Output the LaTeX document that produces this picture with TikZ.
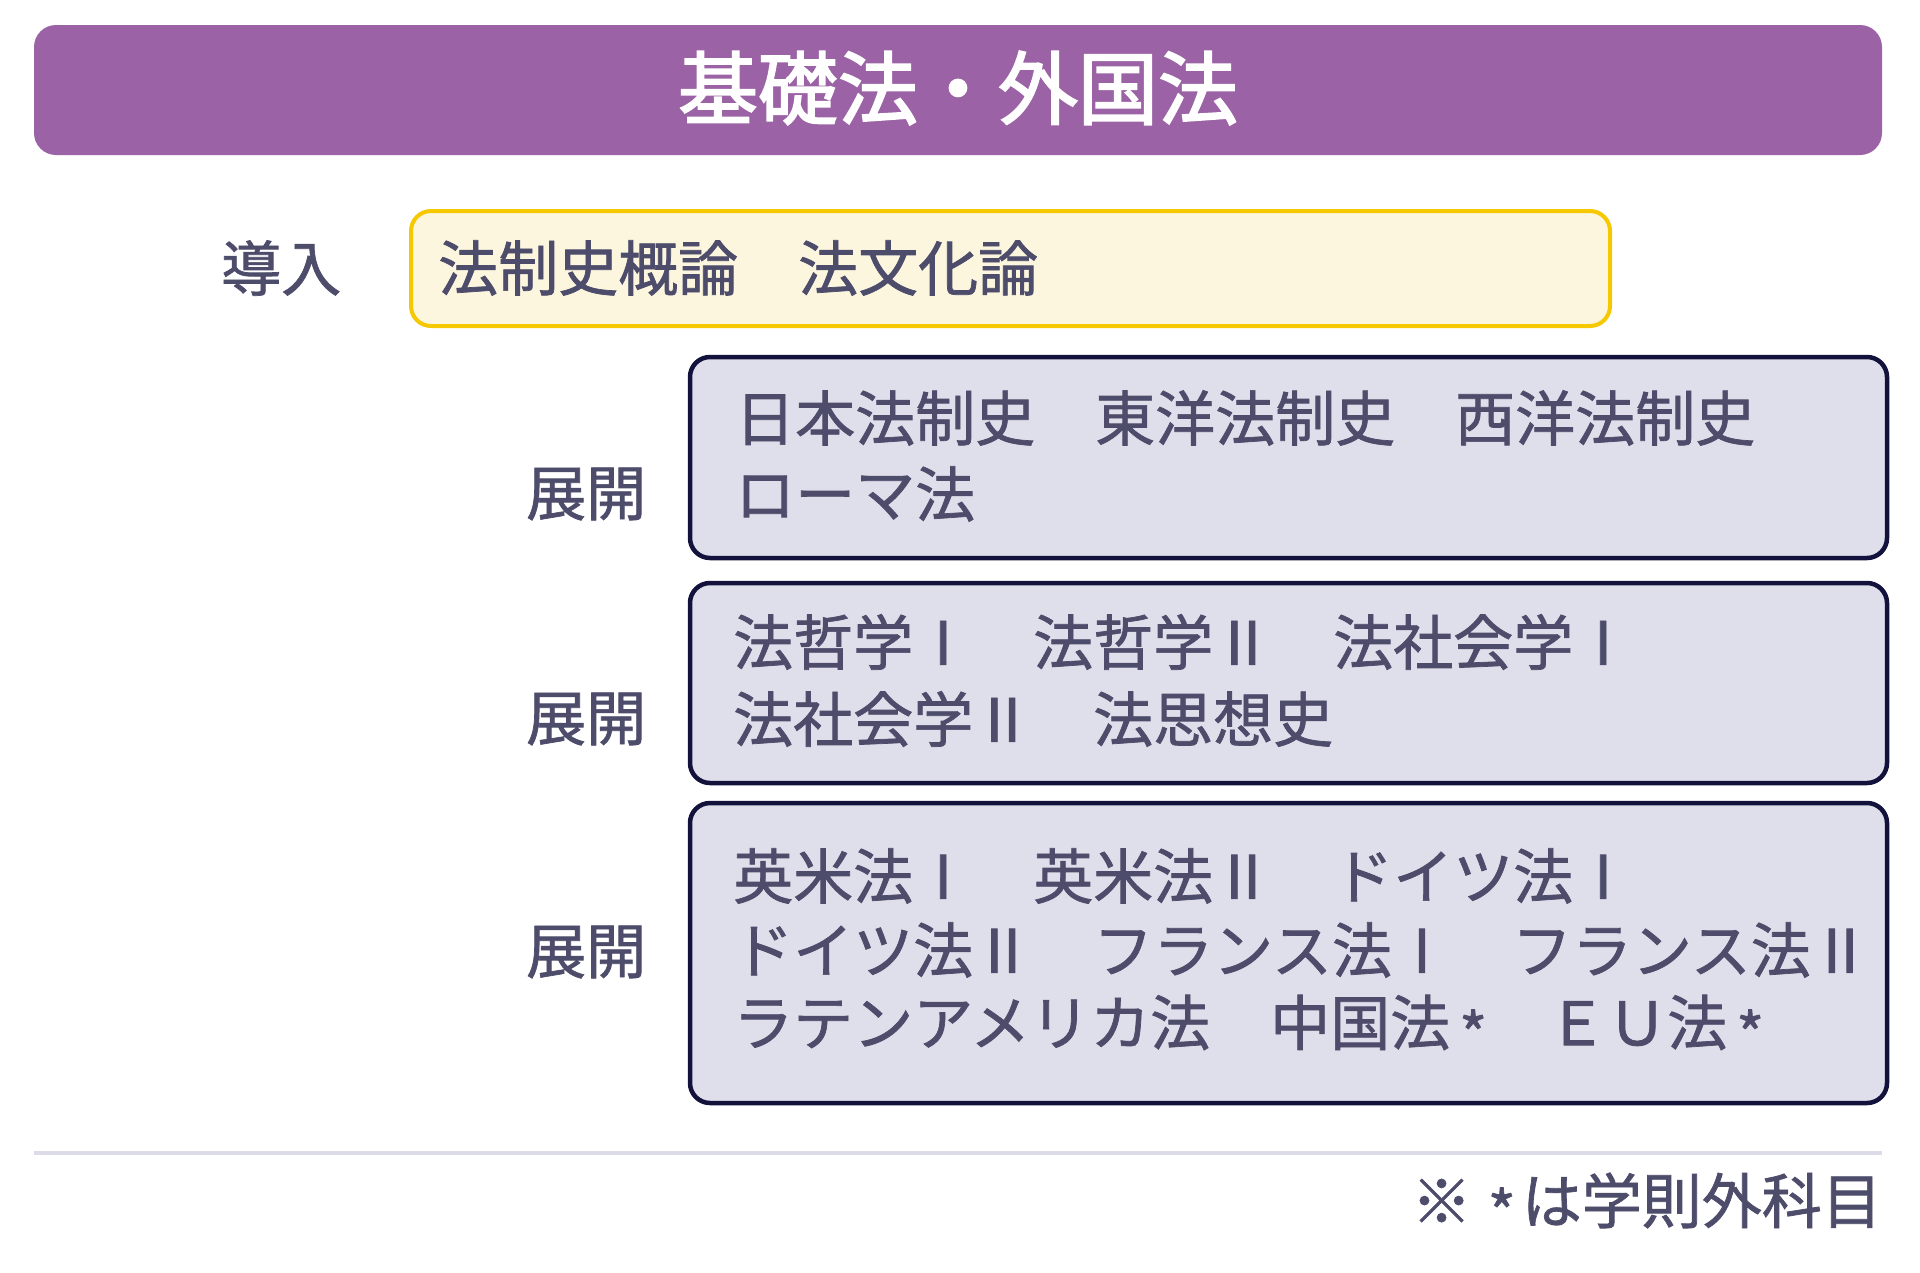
\documentclass[tikz,border=0pt]{standalone}
\usepackage{fontspec}
\setmainfont{Noto Sans CJK JP}
\newfontfamily\bodyfont[FakeBold=1.2]{Noto Sans CJK JP}
\newfontfamily\headfont[FakeBold=2.2]{Noto Sans CJK JP}
\newcommand\kmast[2]{\hspace{#1}\raisebox{-0.2em}{*}\hspace{#2}}
\definecolor{titlepurple}{HTML}{9B62A5}
\definecolor{txt}{HTML}{4D4D6B}
\definecolor{navy}{HTML}{12123C}
\definecolor{boxfill}{HTML}{DFDFEB}
\definecolor{ylborder}{HTML}{F5C800}
\definecolor{ylfill}{HTML}{FDF6DF}
\definecolor{sepline}{HTML}{DCDCE8}
\tikzset{
  body/.style={font=\bodyfont\fontsize{60}{76}\selectfont, text=txt, inner sep=0pt, anchor=west},
  devbox/.style={draw=navy, line width=4.5pt, fill=boxfill, rounded corners=20pt, inner sep=0pt},
  introbox/.style={draw=ylborder, line width=4pt, fill=ylfill, rounded corners=20pt, inner sep=0pt},
}
\begin{document}
\begin{tikzpicture}[x=1pt,y=-1pt]
\useasboundingbox (0,0) rectangle (1920,1272);
% title
\node[fill=titlepurple, rounded corners=22pt, minimum width=1848pt, minimum height=130pt, inner sep=0pt] (titlebar) at (958,90) {};
\node[font=\headfont\fontsize{80}{96}\selectfont, text=white, inner sep=0pt] (title) at (958,88) {基礎法・外国法};
% intro
\node[introbox, minimum width=1199pt, minimum height=115pt] (intro) at (1010.5,268.5) {};
\node[body] (introlabel) at (221,268) {導入};
\node[body] (introtext) at (438,268) {法制史概論　法文化論};
% box 1
\node[devbox, minimum width=1197pt, minimum height=201pt] (box1) at (1288.5,457.5) {};
\node[body] (b1l1) at (735,418) {日本法制史　東洋法制史　西洋法制史};
\node[body] (b1l2) at (735,494) {ローマ法};
\node[body] (lab1) at (526,494) {展開};
% box 2
\node[devbox, minimum width=1197pt, minimum height=200pt] (box2) at (1288.5,683) {};
\node[body] (b2l1) at (733,642) {法哲学Ⅰ　法哲学Ⅱ　法社会学Ⅰ};
\node[body] (b2l2) at (733,719) {法社会学Ⅱ　法思想史};
\node[body] (lab2) at (526,719) {展開};
% box 3
\node[devbox, minimum width=1197pt, minimum height=300pt] (box3) at (1288.5,953) {};
\node[body] (b3l1) at (733,876) {英米法Ⅰ　英米法Ⅱ　ドイツ法Ⅰ};
\node[body] (b3l2) at (733,950) {ドイツ法Ⅱ　フランス法Ⅰ　フランス法Ⅱ};
\node[body] (b3l3) at (733,1026) {ラテンアメリカ法　中国法\kmast{0.15em}{0em}　ＥＵ法\kmast{0.15em}{0em}};
\node[body] (lab3) at (526,952) {展開};
% separator
\coordinate (sepL) at (34,1153);
\coordinate (sepR) at (1882,1153);
\draw[sepline, line width=4pt] (sepL) -- (sepR);
% footnote
\node[body, anchor=east] (note) at (1882,1204) {※\kmast{0.27em}{0.1em}は学則外科目};
\end{tikzpicture}
\end{document}
